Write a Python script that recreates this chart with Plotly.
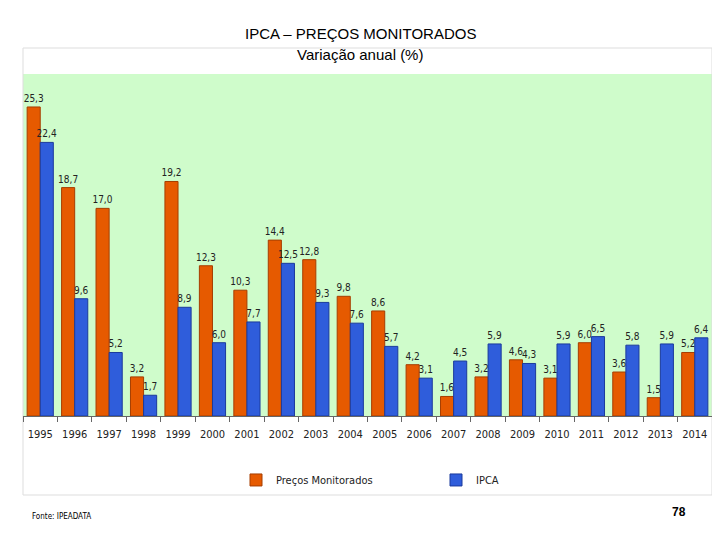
import plotly.graph_objects as go

anos = ["1995", "1996", "1997", "1998", "1999", "2000", "2001", "2002", "2003", "2004",
        "2005", "2006", "2007", "2008", "2009", "2010", "2011", "2012", "2013", "2014"]
precos_monitorados = [25.3, 18.7, 17.0, 3.2, 19.2, 12.3, 10.3, 14.4, 12.8, 9.8,
                      8.6, 4.2, 1.6, 3.2, 4.6, 3.1, 6.0, 3.6, 1.5, 5.2]
ipca = [22.4, 9.6, 5.2, 1.7, 8.9, 6.0, 7.7, 12.5, 9.3, 7.6,
        5.7, 3.1, 4.5, 5.9, 4.3, 5.9, 6.5, 5.8, 5.9, 6.4]

NARROW = "Liberation Sans Narrow, DejaVu Sans Condensed, Arial Narrow, sans-serif"


def fmt(v):
    return f"{v:.1f}".replace(".", ",")


fig = go.Figure()
fig.add_trace(go.Bar(
    x=anos, y=precos_monitorados, name="Preços Monitorados",
    marker=dict(color="#E65A00", line=dict(color="#A63E00", width=1)),
    text=[fmt(v) for v in precos_monitorados], textposition="outside",
    constraintext="none",
    textfont=dict(family=NARROW, size=10, color="#222"), cliponaxis=False,
))
fig.add_trace(go.Bar(
    x=anos, y=ipca, name="IPCA",
    marker=dict(color="#2F5DDB", line=dict(color="#1B3A9C", width=1)),
    text=[fmt(v) for v in ipca], textposition="outside",
    constraintext="none",
    textfont=dict(family=NARROW, size=10, color="#222"), cliponaxis=False,
))

# page is shown with an 8px body offset, margins compensate for it
fig.update_layout(
    width=720, height=540,
    margin=dict(l=15, r=16, t=66, b=132),
    paper_bgcolor="white", plot_bgcolor="#CFFCCB",
    barmode="group", bargap=0.24, bargroupgap=0,
    font=dict(family="Liberation Sans, Arial, sans-serif", color="#111"),
    showlegend=True,
    legend=dict(orientation="h", x=(236 - 23) / 689, xanchor="left",
                y=-0.187, yanchor="middle",
                font=dict(family=NARROW, size=11, color="#222"),
                entrywidth=155, entrywidthmode="pixels", itemwidth=30,
                bgcolor="rgba(0,0,0,0)"),
    xaxis=dict(type="category", showline=True, linecolor="#666", linewidth=1,
               ticks="outside", tickson="boundaries", ticklen=5, tickcolor="#666",
               ticklabelstandoff=8,
               tickfont=dict(family=NARROW, size=11, color="#222"), showgrid=False),
    yaxis=dict(range=[0, 28], showticklabels=False, showgrid=False, zeroline=False,
               showline=False),
    shapes=[dict(type="rect", xref="paper", yref="paper", x0=0, x1=1,
                 y0=-0.231, y1=1.076, line=dict(color="#DDDDDD", width=1),
                 layer="below")],
    annotations=[
        dict(text="IPCA – PREÇOS MONITORADOS", xref="paper", yref="paper",
             x=(360 - 23) / 689, y=1.117, yanchor="middle", showarrow=False,
             font=dict(size=15, color="#000")),
        dict(text="Variação anual (%)", xref="paper", yref="paper",
             x=(360 - 23) / 689, y=1.058, yanchor="middle", showarrow=False,
             font=dict(size=15, color="#000")),
        dict(text="Fonte: IPEADATA", xref="paper", yref="paper", x=0.01, y=-0.295,
             xanchor="left", yanchor="middle", showarrow=False,
             font=dict(family=NARROW, size=8, color="#000")),
        dict(text="<b>78</b>", xref="paper", yref="paper", x=0.965, y=-0.281,
             yanchor="middle", showarrow=False, font=dict(size=12, color="#000")),
    ],
)

fig.write_html("out.html")
